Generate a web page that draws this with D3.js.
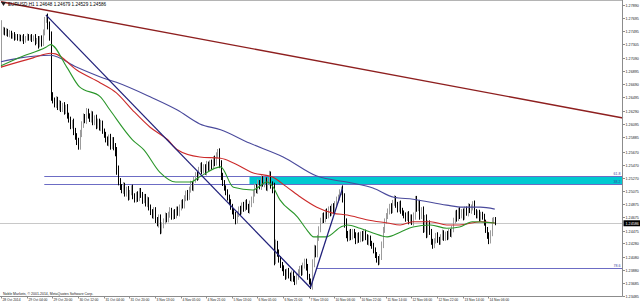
<!DOCTYPE html>
<html>
<head>
<meta charset="utf-8">
<script src="https://cdn.jsdelivr.net/npm/d3@7"></script>
<style>
body { margin: 0; background: #ffffff; }
svg { display: block; font-family: "Liberation Sans", Arial, sans-serif; }
</style>
</head>
<body>
<div id="chart"></div>
<script>

// EURUSD H1, one close per bar starting 28 Oct 2014 (open of each bar = previous close)
var firstOpen = 1.2712;
var closes = [
	1.2748,1.2752,1.2746,1.2750,1.2744,1.2747,1.2741,1.2744,1.2739,1.2742,
	1.2738,1.2741,1.2737,1.2740,1.2735,1.2739,1.2742,1.2738,1.2741,1.2737,
	1.2740,1.2733,1.2736,1.2729,1.2738,1.2731,1.2748,1.2766,1.2770,1.2758,
	1.2741,1.2652,1.2645,1.2638,1.2646,1.2634,1.2640,1.2631,1.2637,1.2628,
	1.2634,1.2622,1.2615,1.2606,1.2611,1.2598,1.2590,1.2582,1.2576,1.2594,
	1.2608,1.2620,1.2614,1.2628,1.2621,1.2616,1.2624,1.2611,1.2618,1.2606,
	1.2613,1.2603,1.2610,1.2598,1.2592,1.2586,1.2580,1.2588,1.2576,1.2584,
	1.2574,1.2566,1.2540,1.2522,1.2514,1.2508,1.2516,1.2503,1.2510,1.2498,
	1.2505,1.2512,1.2500,1.2494,1.2502,1.2496,1.2508,1.2501,1.2493,1.2499,
	1.2488,1.2494,1.2482,1.2476,1.2470,1.2478,1.2464,1.2458,1.2466,1.2448,
	1.2455,1.2462,1.2470,1.2464,1.2472,1.2478,1.2468,1.2475,1.2470,1.2480,
	1.2474,1.2482,1.2490,1.2486,1.2496,1.2504,1.2498,1.2510,1.2518,1.2512,
	1.2524,1.2532,1.2528,1.2540,1.2546,1.2538,1.2544,1.2536,1.2548,1.2542,
	1.2550,1.2545,1.2556,1.2550,1.2562,1.2566,1.2548,1.2530,1.2520,1.2512,
	1.2505,1.2498,1.2490,1.2484,1.2476,1.2470,1.2463,1.2472,1.2480,1.2476,
	1.2486,1.2481,1.2490,1.2484,1.2478,1.2488,1.2494,1.2504,1.2514,1.2508,
	1.2520,1.2514,1.2526,1.2518,1.2524,1.2512,1.2522,1.2532,1.2516,1.2510,
	1.2405,1.2426,1.2414,1.2404,1.2396,1.2390,1.2384,1.2378,1.2386,1.2380,
	1.2375,1.2382,1.2374,1.2370,1.2378,1.2384,1.2390,1.2384,1.2395,1.2400,
	1.2392,1.2378,1.2370,1.2364,1.2398,1.2420,1.2412,1.2436,1.2450,1.2462,
	1.2470,1.2464,1.2476,1.2470,1.2480,1.2474,1.2484,1.2478,1.2488,1.2494,
	1.2498,1.2505,1.2510,1.2496,1.2460,1.2442,1.2436,1.2445,1.2438,1.2446,
	1.2440,1.2432,1.2440,1.2434,1.2442,1.2436,1.2444,1.2438,1.2430,1.2436,
	1.2428,1.2424,1.2418,1.2410,1.2404,1.2400,1.2408,1.2426,1.2448,1.2462,
	1.2470,1.2476,1.2484,1.2478,1.2490,1.2496,1.2486,1.2480,1.2488,1.2478,
	1.2474,1.2470,1.2466,1.2472,1.2462,1.2468,1.2460,1.2470,1.2494,1.2482,
	1.2488,1.2470,1.2478,1.2450,1.2466,1.2442,1.2458,1.2446,1.2430,1.2425,
	1.2432,1.2440,1.2434,1.2430,1.2438,1.2444,1.2436,1.2442,1.2438,1.2446,
	1.2442,1.2450,1.2462,1.2474,1.2466,1.2478,1.2470,1.2476,1.2468,1.2480,
	1.2474,1.2484,1.2478,1.2482,1.2488,1.2476,1.2470,1.2474,1.2466,1.2472,
	1.2468,1.2460,1.2448,1.2440,1.2432,1.2444,1.2462,1.2465,1.24586
];

// wick length beyond the body, in pips
var wicks = [
	18,4,3,4,3,4,3,3,4,3, 3,4,3,3,5,3,4,3,3,4, 3,5,3,6,4,5,4,5,4,6,
	6,8,5,4,5,4,5,4,4,5, 4,5,4,5,4,6,5,5,6,6, 5,5,4,5,4,4,5,4,4,5,
	4,4,5,4,4,5,4,5,6,5, 5,6,8,6,5,4,5,4,4,5, 4,4,5,4,4,5,4,4,5,4,
	4,5,4,5,4,5,5,4,6,6, 5,4,5,4,4,5,4,4,5,4, 4,5,4,5,5,4,5,4,5,4,
	5,4,5,4,4,5,4,4,5,4, 4,5,4,5,4,5,6,6,5,4, 4,5,4,5,4,5,6,5,4,5,
	4,5,4,5,4,5,5,5,5,4, 5,4,5,4,5,4,5,6,5,6, 10,8,6,5,5,4,5,5,4,5,
	4,5,4,5,4,5,4,5,4,5, 5,5,4,5,6,6,5,5,4,5, 4,5,4,5,4,5,4,5,4,5,
	4,5,4,6,8,6,5,4,5,4, 4,5,4,5,4,5,4,5,4,5, 4,4,5,4,5,5,4,5,5,4,
	4,5,4,5,4,5,4,5,4,5, 4,4,5,4,5,4,4,5,6,6, 5,6,5,6,5,6,5,5,4,5,
	4,4,5,4,4,5,4,4,5,4, 4,5,5,4,5,4,5,4,5,4, 4,5,4,5,4,5,4,4,5,4,
	4,5,4,5,5,4,5,3,3
];

// moving averages as [bar, price]
var maGreen = [[0,1.2697],[12,1.2710],[28,1.2725],[31,1.2729],[41,1.2695],[49,1.2665],[62,1.2650],
	[68,1.2630],[82,1.2585],[89,1.2570],[99,1.2536],[109,1.2521],[118,1.2521],[124,1.2529],[137,1.2544],
	[145,1.2513],[157,1.2509],[166,1.2521],[169,1.2516],[174,1.2494],[185,1.2468],[191,1.2448],[195,1.2438],
	[203,1.2438],[212,1.2453],[216,1.2456],[224,1.2451],[232,1.2444],[241,1.2438],[249,1.2445],[257,1.2453],
	[268,1.2456],[278,1.2451],[286,1.2453],[294,1.2461],[308,1.2459]];
var maRed = [[0,1.2695],[20,1.2709],[31,1.2716],[34,1.2715],[47,1.2691],[62,1.2671],[72,1.2656],
	[82,1.2630],[93,1.2604],[104,1.2585],[110,1.2570],[124,1.2559],[137,1.2557],[145,1.2550],[157,1.2535],
	[169,1.2529],[178,1.2514],[187,1.2498],[197,1.2483],[207,1.2474],[216,1.2471],[228,1.2464],[241,1.2459],
	[249,1.2456],[257,1.2461],[268,1.2461],[278,1.2456],[286,1.2456],[299,1.2461],[308,1.2459]];
var maBlue = [[0,1.2703],[12,1.2709],[31,1.2713],[47,1.2695],[62,1.2680],[72,1.2672],[93,1.2650],
	[110,1.2630],[124,1.2609],[137,1.2600],[155,1.2580],[176,1.2559],[197,1.2530],[218,1.2520],[232,1.2512],
	[245,1.2498],[257,1.2495],[278,1.2486],[288,1.2483],[299,1.2483],[308,1.2480]];

// drawn objects, anchors as [bar, price]
var trendRed = [[0,1.2794],[388,1.2618]];
var trendDown = [[28,1.2774],[193,1.2361]];
var trendUp = [[193,1.2361],[213,1.2511]];
var fibNames = ["61.8", "38.2", "78.6"];
var fibPrices = [1.2530, 1.2518, 1.2391];
var fibStart = [27, 27, 197];
var zoneStart = 155;

var lastPrice = 1.24586;
var header = "EURUSD,H1  1.24648 1.24679 1.24529 1.24586";
var copyright = "Noble Markets, \u00a9 2001-2014, MetaQuotes Software Corp.";

var priceLabels = ["1.27890","1.27695","1.27495","1.27305","1.27090","1.26895","1.26690","1.26495",
	"1.26290","1.26095","1.25885","1.25670","1.25470","1.25270","1.25075","1.24875","1.24675","1.24475",
	"1.24280","1.24080","1.23880","1.23685","1.23485"];
var timeLabels = ["28 Oct 2014","29 Oct 04:00","29 Oct 20:00","30 Oct 12:00","31 Oct 04:00","31 Oct 20:00",
	"3 Nov 13:00","4 Nov 05:00","4 Nov 21:00","5 Nov 13:00","6 Nov 05:00","6 Nov 21:00","7 Nov 13:00",
	"10 Nov 06:00","10 Nov 22:00","11 Nov 14:00","12 Nov 06:00","12 Nov 22:00","13 Nov 14:00","14 Nov 06:00"];
var barsPerLabel = 16;

function drawChart() {

	var width = 640;
	var height = 304;
	var plotRight = 622.5;
	var plotBottom = 296.5;

	var svg = d3.select("#chart")
		.append("svg")
		.attr("width", width)
		.attr("height", height);

	// scales: bar index to x, price to y
	var x = d3.scaleLinear()
		.domain([0, 388])
		.range([1, 623]);
	var y = d3.scaleLinear()
		.domain([1.23485, 1.27890])
		.range([296, 5]);

	// build candles
	var bars = closes.map(function(c, i) {
		var o = (i == 0) ? firstOpen : closes[i - 1];
		var w = wicks[i] / 10000;
		return {i: i, o: o, c: c, h: Math.max(o, c) + w, l: Math.min(o, c) - w};
	});

	// turquoise zone between the two fib levels
	svg.append("rect")
		.attr("x", x(zoneStart))
		.attr("y", y(fibPrices[0]))
		.attr("width", plotRight - x(zoneStart))
		.attr("height", y(fibPrices[1]) - y(fibPrices[0]))
		.style("fill", "#00c9d0");

	// fib level lines
	fibPrices.forEach(function(p, k) {
		svg.append("line")
			.attr("x1", x(fibStart[k]))
			.attr("x2", plotRight)
			.attr("y1", Math.round(y(p)) + 0.5)
			.attr("y2", Math.round(y(p)) + 0.5)
			.style("stroke", "#6c6cc4")
			.style("stroke-width", 1);
		svg.append("text")
			.attr("x", plotRight - 2)
			.attr("y", Math.round(y(p)) - 1)
			.style("text-anchor", "end")
			.style("font-size", "3.6px")
			.style("fill", "#3c3ca0")
			.text(fibNames[k]);
	});

	// current price line
	svg.append("line")
		.attr("x1", 0)
		.attr("x2", plotRight)
		.attr("y1", Math.round(y(lastPrice)) + 0.5)
		.attr("y2", Math.round(y(lastPrice)) + 0.5)
		.style("stroke", "#c8c8c8")
		.style("stroke-width", 1);

	// candles
	var candle = svg.append("g").selectAll("g")
		.data(bars)
		.enter()
		.append("g")
		.style("stroke", function(d) { return d.c >= d.o ? "#9c9c9c" : "#000000"; })
		.style("fill", function(d) { return d.c >= d.o ? "#9c9c9c" : "#000000"; });
	candle.append("line")
		.attr("x1", function(d) { return Math.round(x(d.i)) + 0.5; })
		.attr("x2", function(d) { return Math.round(x(d.i)) + 0.5; })
		.attr("y1", function(d) { return y(d.h); })
		.attr("y2", function(d) { return y(d.l); })
		.style("stroke-width", 1);
	candle.append("rect")
		.attr("x", function(d) { return Math.round(x(d.i)); })
		.attr("y", function(d) { return y(Math.max(d.o, d.c)); })
		.attr("width", 1)
		.attr("height", function(d) { return Math.max(1, y(Math.min(d.o, d.c)) - y(Math.max(d.o, d.c))); })
		.style("stroke", "none");

	// moving averages
	var maLine = d3.line()
		.x(function(d) { return x(d[0]); })
		.y(function(d) { return y(d[1]); })
		.curve(d3.curveMonotoneX);
	var mas = [[maBlue, "#4a4a9c"], [maRed, "#cc2a2a"], [maGreen, "#2a962a"]];
	mas.forEach(function(m) {
		svg.append("path")
			.attr("d", maLine(m[0]))
			.style("fill", "none")
			.style("stroke", m[1])
			.style("stroke-width", 1.1);
	});

	// trendlines
	var straight = d3.line()
		.x(function(d) { return x(d[0]); })
		.y(function(d) { return y(d[1]); });
	svg.append("path")
		.attr("d", straight(trendRed))
		.style("stroke", "#8e1f1f")
		.style("stroke-width", 1.4)
		.style("fill", "none");
	[trendDown, trendUp].forEach(function(t) {
		svg.append("path")
			.attr("d", straight(t))
			.style("stroke", "#20207a")
			.style("stroke-width", 1.3)
			.style("fill", "none");
	});

	// frame
	svg.append("line")
		.attr("x1", 0).attr("x2", plotRight)
		.attr("y1", 0.5).attr("y2", 0.5)
		.style("stroke", "#b4b4b4");
	svg.append("line")
		.attr("x1", plotRight).attr("x2", plotRight)
		.attr("y1", 0).attr("y2", plotBottom)
		.style("stroke", "#8c8c8c");
	svg.append("line")
		.attr("x1", 0).attr("x2", plotRight)
		.attr("y1", plotBottom).attr("y2", plotBottom)
		.style("stroke", "#8c8c8c");

	// price axis
	priceLabels.forEach(function(t) {
		var py = Math.round(y(+t)) + 0.5;
		svg.append("line")
			.attr("x1", plotRight).attr("x2", plotRight + 2.5)
			.attr("y1", py).attr("y2", py)
			.style("stroke", "#8c8c8c");
		svg.append("text")
			.attr("x", 625.5)
			.attr("y", py + 1.3)
			.style("font-size", "3.7px")
			.style("fill", "#222")
			.text(t);
	});

	// last price tag
	svg.append("rect")
		.attr("x", 623.5)
		.attr("y", y(lastPrice) - 3)
		.attr("width", 16.5)
		.attr("height", 6)
		.style("fill", "#000");
	svg.append("text")
		.attr("x", 625.5)
		.attr("y", y(lastPrice) + 1.3)
		.style("font-size", "3.7px")
		.style("fill", "#fff")
		.text(lastPrice.toFixed(5));

	// time axis
	timeLabels.forEach(function(t, k) {
		var tx = Math.round(x(k * barsPerLabel)) + 0.5;
		svg.append("line")
			.attr("x1", tx).attr("x2", tx)
			.attr("y1", plotBottom).attr("y2", plotBottom + 2)
			.style("stroke", "#8c8c8c");
		svg.append("text")
			.attr("x", tx + 1)
			.attr("y", 300.8)
			.style("font-size", "3.3px")
			.style("fill", "#222")
			.text(t);
	});

	// header and copyright
	svg.append("path")
		.attr("d", "M1,2 L6,2 L3.5,6 Z")
		.style("fill", "#222");
	svg.append("text")
		.attr("x", 8)
		.attr("y", 6.2)
		.style("font-size", "4.6px")
		.style("fill", "#000")
		.text(header);
	svg.append("text")
		.attr("x", 3)
		.attr("y", 295)
		.style("font-size", "3.5px")
		.style("fill", "#222")
		.text(copyright);
};

drawChart();
</script>
</body>
</html>
